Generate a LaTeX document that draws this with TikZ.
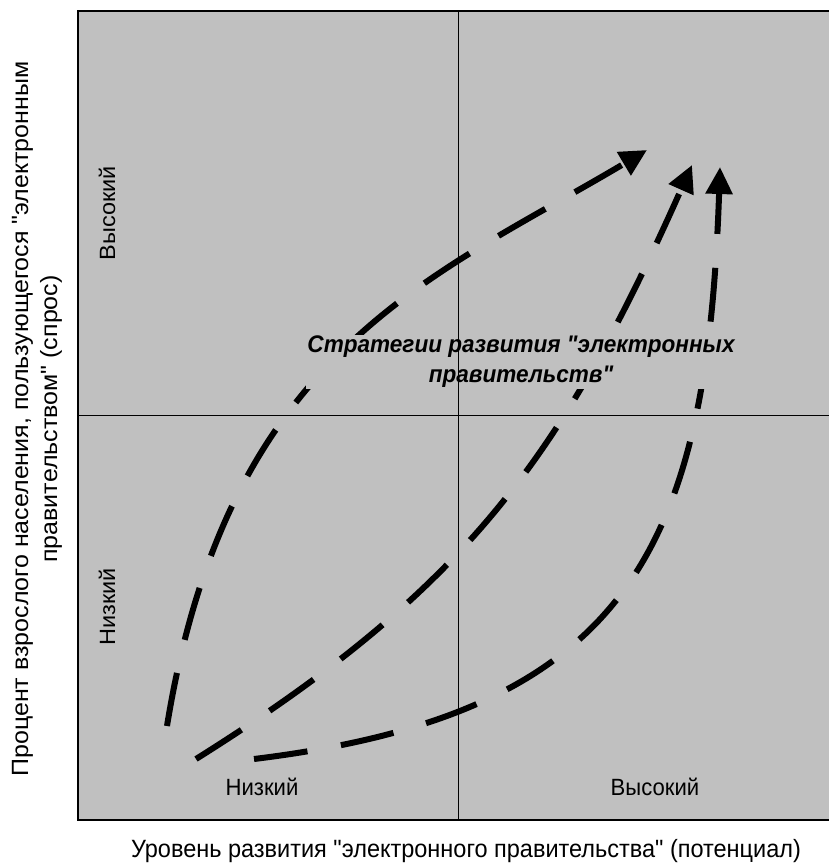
\documentclass[tikz,border=0pt]{standalone}
\usepackage{fontspec}
\setmainfont{Liberation Sans}
\usetikzlibrary{arrows.meta, positioning}
\definecolor{fieldgray}{RGB}{192,192,192}
% text is a little narrower than it is tall
\newcommand{\narrowtext}[1]{\scalebox{0.94}[1]{#1}}
\newcommand{\flattext}[1]{\scalebox{1}[0.94]{#1}}
\newcommand{\qq}{\textquotedbl}

\begin{document}
\begin{tikzpicture}[
x=1pt, y=-1pt,
axis/.style={font=\fontsize{25}{29}\selectfont, align=center},
level/.style={font=\fontsize{23.5}{26}\selectfont},
route/.style={line width=6pt, dash pattern=on 54pt off 34pt, -{Triangle[length=27pt, width=26pt]}}
]
\useasboundingbox (0,0) rectangle (828,864);

\node[draw, line width=1.2pt, fill=fieldgray, minimum width=760pt, minimum height=809pt, inner sep=0pt] (field) at (458,415.5) {};

% axis labels
\node[axis] (xlabel) at (466,851) {\narrowtext{Уровень развития \qq электронного правительства\qq\ (потенциал)}};
\node[axis, rotate=90] (ylabel) at (37,419) {\flattext{Процент взрослого населения, пользующегося \qq электронным}\\\flattext{правительством\qq\ (спрос)}};

% levels
\node[level] (xlow) at (262,787) {\narrowtext{Низкий}};
\node[level] (xhigh) at (655,787) {\narrowtext{Высокий}};
\node[level, rotate=90] (ylow) at (107,607) {\flattext{Низкий}};
\node[level, rotate=90] (yhigh) at (107,213) {\flattext{Высокий}};

% strategies
\coordinate (s1) at (167,726);
\coordinate (e1) at (647,150);
\coordinate (s2) at (196,759);
\coordinate (e2) at (692,165);
\coordinate (s3) at (254,759);
\coordinate (e3) at (720,167);

\draw[route] (s1) .. controls (228,350) and (432,278) .. (e1);
\draw[route] (s2) .. controls (467,589) and (562,457) .. (e2);
\draw[route] (s3) .. controls (630,713) and (707,547) .. (e3);

\node[fill=fieldgray, inner sep=1pt, align=center, font=\fontsize{24}{30}\selectfont\bfseries\itshape] (strat) at (521,362) {\narrowtext{Стратегии развития \qq электронных}\\\narrowtext{правительств\qq}};

% quadrants
\draw (field.north) -- (field.south);
\draw (field.west) -- (field.east);

\end{tikzpicture}
\end{document}
